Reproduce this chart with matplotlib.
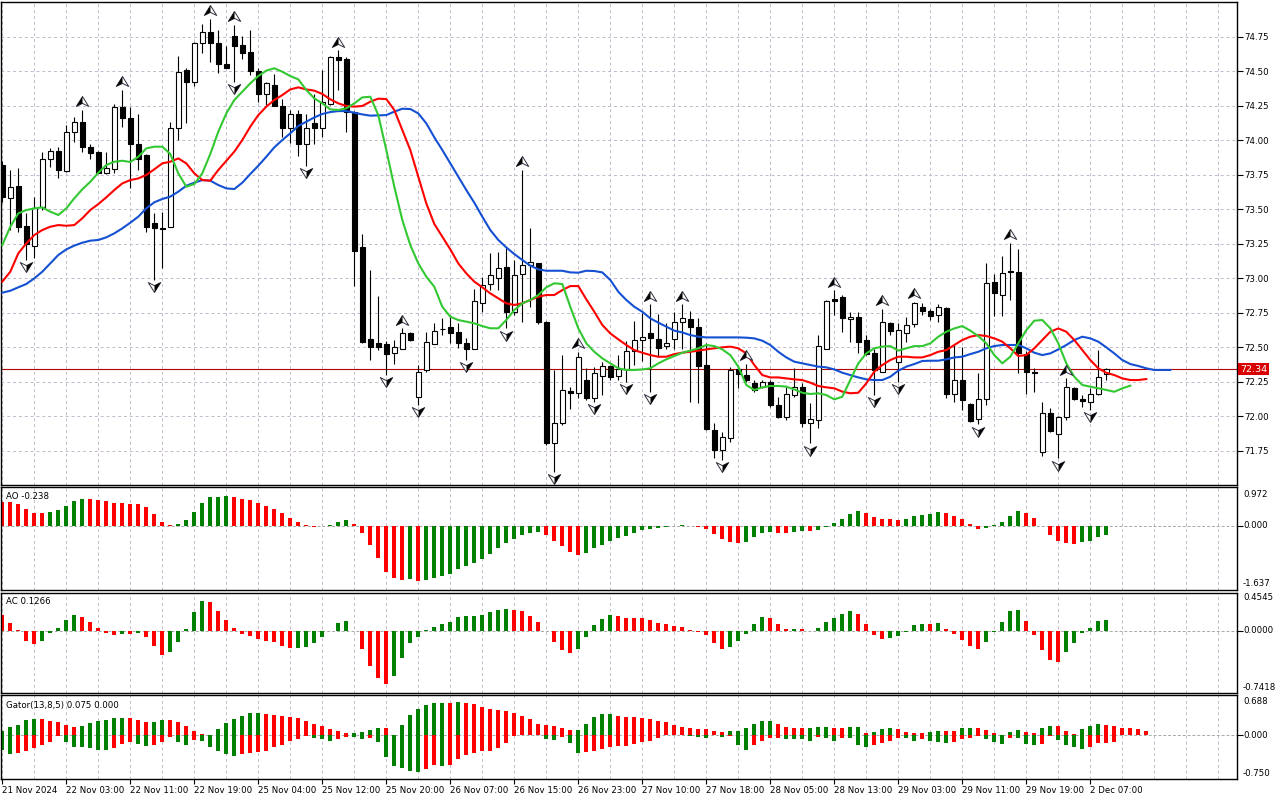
import numpy as np
import matplotlib
matplotlib.use("Agg")
import matplotlib.pyplot as plt
from matplotlib.path import Path
from matplotlib.transforms import blended_transform_factory

# ── Data (bar 0 = 21 Nov 2024) ───────────────────────────────────────────────
opens = [73.82, 73.578, 73.668, 73.378, 73.236, 73.518, 73.861, 73.921, 73.779, 74.057,
         74.129, 73.948, 73.914, 73.76, 73.791, 74.238, 74.158, 73.97, 73.893, 73.402,
         73.362, 73.373, 74.086, 74.508, 74.424, 74.702, 74.781, 74.702, 74.55, 74.755,
         74.69, 74.636, 74.50, 74.332, 74.40, 74.25, 74.086, 74.187, 73.97, 74.127,
         74.086, 74.262, 74.60, 74.588, 74.202, 73.228, 72.557, 72.528, 72.523, 72.455,
         72.49, 72.60, 72.137, 72.335, 72.52, 72.63, 72.649, 72.607, 72.528, 72.49,
         72.823, 72.955, 73.004, 73.078, 72.757, 73.028, 73.095, 73.107, 72.685, 71.808,
         71.953, 72.183, 72.166, 72.262, 72.129, 72.294, 72.366, 72.29, 72.34, 72.475,
         72.552, 72.605, 72.557, 72.508, 72.557, 72.68, 72.702, 72.649, 72.371, 71.90,
         71.755, 71.84, 72.342, 72.298, 72.238, 72.214, 72.25, 72.081, 71.996, 72.153,
         72.21, 71.953, 71.972, 72.49, 72.847, 72.867, 72.702, 72.716, 72.552, 72.455,
         72.322, 72.678, 72.395, 72.604, 72.667, 72.793, 72.764, 72.733, 72.781, 72.163,
         72.262, 72.086, 71.977, 72.122, 72.974, 72.878, 73.054, 73.047, 72.45, 72.318,
         71.738, 72.021, 71.87, 71.992, 72.202, 72.124, 72.105, 72.158, 72.303]
highs = [73.85, 73.784, 73.796, 73.47, 73.59, 73.917, 73.946, 73.953, 74.11, 74.165,
         74.219, 73.97, 73.92, 73.917, 74.262, 74.364, 74.238, 74.187, 73.90, 73.47,
         73.482, 74.134, 74.61, 74.52, 74.715, 74.84, 74.878, 74.80, 74.685, 74.835,
         74.755, 74.80, 74.52, 74.424, 74.479, 74.298, 74.219, 74.219, 74.187, 74.332,
         74.508, 74.61, 74.653, 74.605, 74.21, 73.32, 73.06, 72.871, 72.547, 72.55,
         72.636, 72.61, 72.371, 72.612, 72.673, 72.709, 72.733, 72.673, 72.564, 72.92,
         73.006, 73.18, 73.192, 73.216, 73.13, 73.784, 73.361, 73.11, 72.69, 72.335,
         72.443, 72.214, 72.467, 72.347, 72.36, 72.395, 72.37, 72.443, 72.545, 72.692,
         72.745, 72.81, 72.74, 72.677, 72.757, 72.81, 72.764, 72.709, 72.528, 71.948,
         71.888, 72.355, 72.371, 72.38, 72.262, 72.262, 72.262, 72.14, 72.214, 72.347,
         72.238, 72.093, 72.588, 72.84, 72.914, 72.88, 72.757, 72.757, 72.588, 72.49,
         72.78, 72.68, 72.673, 72.72, 72.83, 72.817, 72.78, 72.81, 72.793, 72.516,
         72.504, 72.093, 72.31, 73.107, 73.03, 73.16, 73.257, 73.21, 72.475, 72.347,
         72.10, 72.057, 72.0, 72.274, 72.214, 72.153, 72.202, 72.479, 72.347]
lows = [73.55, 73.349, 73.337, 73.132, 73.144, 73.494, 73.808, 73.728, 73.772, 73.989,
        73.917, 73.861, 73.76, 73.755, 73.76, 74.098, 73.651, 73.784, 73.337, 72.987,
        73.071, 73.37, 74.0, 74.122, 74.39, 74.63, 74.569, 74.489, 74.52, 74.424,
        74.586, 74.472, 74.279, 74.255, 74.248, 74.02, 73.977, 73.888, 73.815, 73.97,
        74.02, 74.255, 74.364, 74.057, 72.943, 72.528, 72.407, 72.48, 72.298, 72.376,
        72.49, 72.547, 72.081, 72.32, 72.52, 72.588, 72.528, 72.492, 72.407, 72.49,
        72.757, 72.914, 72.914, 72.636, 72.733, 72.685, 72.793, 72.668, 71.79, 71.598,
        71.936, 72.05, 72.129, 72.12, 72.105, 72.153, 72.262, 72.262, 72.25, 72.371,
        72.402, 72.178, 72.431, 72.49, 72.49, 72.49, 72.105, 72.093, 71.90, 71.694,
        71.682, 71.815, 72.202, 72.25, 72.178, 72.202, 72.069, 71.99, 71.972, 72.141,
        71.924, 71.803, 71.912, 72.49, 72.733, 72.607, 72.54, 72.455, 72.443, 72.153,
        72.32, 72.588, 72.25, 72.54, 72.648, 72.733, 72.697, 72.685, 72.129, 72.105,
        72.045, 71.955, 71.94, 72.081, 72.723, 72.723, 72.842, 72.31, 72.158, 72.177,
        71.711, 71.888, 71.694, 71.972, 72.117, 72.069, 72.045, 72.153, 72.262]
closes = [73.59, 73.663, 73.373, 73.248, 73.506, 73.861, 73.921, 73.784, 74.057, 74.129,
          73.948, 73.91, 73.764, 73.796, 74.238, 74.158, 73.97, 73.861, 73.373, 73.366,
          73.36, 74.086, 74.492, 74.419, 74.702, 74.781, 74.702, 74.55, 74.525, 74.685,
          74.634, 74.504, 74.332, 74.412, 74.25, 74.086, 74.187, 73.97, 74.086, 74.086,
          74.279, 74.60, 74.581, 74.202, 73.199, 72.54, 72.504, 72.504, 72.448, 72.499,
          72.605, 72.55, 72.323, 72.54, 72.62, 72.632, 72.60, 72.528, 72.49, 72.837,
          72.95, 73.02, 73.071, 72.757, 73.02, 73.095, 73.12, 72.685, 71.803, 71.948,
          72.19, 72.166, 72.426, 72.129, 72.31, 72.366, 72.286, 72.34, 72.472, 72.552,
          72.576, 72.569, 72.497, 72.528, 72.685, 72.709, 72.649, 72.366, 71.907, 71.755,
          71.847, 72.335, 72.306, 72.262, 72.19, 72.25, 72.081, 71.992, 72.158, 72.214,
          71.953, 71.977, 72.508, 72.835, 72.835, 72.709, 72.716, 72.54, 72.448, 72.335,
          72.685, 72.62, 72.624, 72.66, 72.817, 72.764, 72.728, 72.788, 72.158, 72.265,
          72.117, 71.965, 72.122, 72.967, 72.895, 73.04, 73.047, 72.455, 72.322, 72.31,
          72.021, 71.893, 71.995, 72.209, 72.124, 72.11, 72.158, 72.281, 72.34]

# Alligator lines as drawn (already shifted forward: jaw +8, teeth +5, lips +3)
jaw = [72.895, 72.909, 72.934, 72.958, 72.999, 73.047, 73.107, 73.168, 73.209, 73.236,
       73.257, 73.272, 73.277, 73.296, 73.325, 73.361, 73.402, 73.446, 73.506, 73.55,
       73.574, 73.591, 73.627, 73.670, 73.692, 73.711, 73.707, 73.675, 73.651, 73.646,
       73.692, 73.755, 73.815, 73.880, 73.948, 74.001, 74.05, 74.103, 74.134, 74.165,
       74.19, 74.204, 74.211, 74.211, 74.199, 74.187, 74.178, 74.18, 74.182, 74.207,
       74.228, 74.226, 74.194, 74.122, 74.021, 73.929, 73.832, 73.736, 73.639, 73.547,
       73.446, 73.349, 73.277, 73.223, 73.175, 73.132, 73.091, 73.064, 73.054, 73.054,
       73.054, 73.042, 73.04, 73.054, 73.052, 73.042, 72.987, 72.902, 72.842, 72.793,
       72.757, 72.709, 72.678, 72.649, 72.62, 72.607, 72.588, 72.576, 72.571, 72.571,
       72.571, 72.571, 72.571, 72.569, 72.564, 72.547, 72.516, 72.467, 72.426, 72.395,
       72.383, 72.371, 72.359, 72.354, 72.339, 72.315, 72.298, 72.281, 72.267, 72.262,
       72.262, 72.286, 72.33, 72.359, 72.378, 72.40, 72.402, 72.402, 72.412, 72.426,
       72.431, 72.45, 72.467, 72.492, 72.508, 72.516, 72.516, 72.516, 72.492, 72.46,
       72.443, 72.455, 72.484, 72.516, 72.552, 72.576, 72.564, 72.54, 72.499, 72.455,
       72.407, 72.378, 72.364, 72.347, 72.335, 72.335, 72.335]
teeth = [72.975, 73.047, 73.18, 73.252, 73.313, 73.349, 73.373, 73.385, 73.38, 73.385,
         73.434, 73.494, 73.537, 73.586, 73.639, 73.687, 73.711, 73.723, 73.748, 73.789,
         73.832, 73.844, 73.868, 73.832, 73.760, 73.711, 73.707, 73.784, 73.851, 73.917,
         74.001, 74.098, 74.182, 74.243, 74.291, 74.327, 74.368, 74.383, 74.368, 74.359,
         74.335, 74.296, 74.267, 74.248, 74.243, 74.248, 74.279, 74.301, 74.298, 74.219,
         74.074, 73.929, 73.736, 73.542, 73.393, 73.301, 73.209, 73.107, 73.035, 72.975,
         72.934, 72.89, 72.854, 72.818, 72.806, 72.818, 72.842, 72.866, 72.878, 72.878,
         72.914, 72.943, 72.943, 72.847, 72.757, 72.661, 72.60, 72.557, 72.516, 72.479,
         72.46, 72.443, 72.431, 72.431, 72.45, 72.46, 72.467, 72.475, 72.484, 72.492,
         72.499, 72.504, 72.492, 72.455, 72.371, 72.298, 72.281, 72.281, 72.274, 72.267,
         72.262, 72.243, 72.219, 72.209, 72.202, 72.178, 72.166, 72.17, 72.238, 72.323,
         72.371, 72.407, 72.431, 72.431, 72.426, 72.426, 72.443, 72.467, 72.479, 72.516,
         72.552, 72.576, 72.588, 72.581, 72.564, 72.54, 72.492, 72.436, 72.443, 72.492,
         72.552, 72.612, 72.636, 72.612, 72.552, 72.479, 72.407, 72.347, 72.315, 72.298,
         72.274, 72.262, 72.262, 72.269]
lips = [73.240, 73.373, 73.470, 73.494, 73.506, 73.513, 73.482, 73.458, 73.506, 73.579,
        73.644, 73.699, 73.764, 73.820, 73.844, 73.851, 73.842, 73.880, 73.941, 73.953,
        73.953, 73.900, 73.760, 73.663, 73.682, 73.760, 73.900, 74.062, 74.194, 74.291,
        74.351, 74.412, 74.465, 74.504, 74.521, 74.496, 74.465, 74.441, 74.364, 74.303,
        74.267, 74.223, 74.219, 74.231, 74.267, 74.31, 74.315, 74.182, 73.929, 73.663,
        73.422, 73.24, 73.107, 73.011, 72.938, 72.793, 72.721, 72.697, 72.685, 72.673,
        72.653, 72.637, 72.637, 72.697, 72.769, 72.818, 72.842, 72.878, 72.934, 72.963,
        72.958, 72.793, 72.637, 72.528, 72.467, 72.419, 72.383, 72.347, 72.335, 72.335,
        72.339, 72.347, 72.383, 72.412, 72.436, 72.46, 72.475, 72.492, 72.516, 72.508,
        72.484, 72.443, 72.359, 72.226, 72.19, 72.209, 72.219, 72.219, 72.214, 72.194,
        72.17, 72.161, 72.166, 72.153, 72.122, 72.141, 72.262, 72.383, 72.455, 72.492,
        72.504, 72.508, 72.475, 72.492, 72.508, 72.508, 72.528, 72.576, 72.612, 72.636,
        72.653, 72.62, 72.581, 72.528, 72.443, 72.383, 72.431, 72.528, 72.624, 72.692,
        72.697, 72.637, 72.528, 72.383, 72.286, 72.226, 72.214, 72.202, 72.19, 72.177,
        72.202, 72.221]

fractal_up = [10, 15, 26, 29, 42, 50, 65, 72, 81, 85, 93, 104, 110, 114, 126, 133]
fractal_down = [3, 19, 29, 38, 48, 52, 58, 63, 69, 74, 78, 81, 90, 101, 109, 112, 122, 132, 136]

ao = [0.59, 0.59, 0.549, 0.422, 0.32, 0.318, 0.345, 0.396, 0.498, 0.625,
      0.676, 0.672, 0.659, 0.633, 0.574, 0.572, 0.549, 0.547, 0.472, 0.295,
      0.091, 0.015, 0.04, 0.142, 0.345, 0.574, 0.726, 0.728, 0.752, 0.726,
      0.676, 0.659, 0.574, 0.498, 0.422, 0.32, 0.193, 0.091, 0.015, -0.027,
      -0.02, 0.015, 0.091, 0.142, 0.04, -0.189, -0.494, -0.823, -1.179, -1.331,
      -1.382, -1.356, -1.407, -1.382, -1.331, -1.28, -1.229, -1.102, -1.026, -0.95,
      -0.848, -0.721, -0.569, -0.442, -0.34, -0.239, -0.189, -0.163, -0.239, -0.391,
      -0.527, -0.663, -0.74, -0.688, -0.56, -0.493, -0.383, -0.307, -0.256, -0.18,
      -0.12, -0.078, -0.053, -0.027, -0.01, 0.003, -0.005, -0.027, -0.078, -0.205,
      -0.349, -0.408, -0.434, -0.408, -0.298, -0.18, -0.154, -0.18, -0.182, -0.16,
      -0.145, -0.15, -0.12, -0.027, 0.066, 0.176, 0.295, 0.371, 0.32, 0.218,
      0.176, 0.174, 0.151, 0.176, 0.244, 0.269, 0.295, 0.345, 0.32, 0.244,
      0.176, 0.04, -0.075, -0.065, 0.02, 0.091, 0.244, 0.371, 0.32, 0.193,
      -0.01, -0.231, -0.383, -0.434, -0.468, -0.417, -0.383, -0.281, -0.238]
ac = [0.183, 0.088, 0.004, -0.128, -0.16, -0.128, -0.028, 0.028, 0.124, 0.183,
      0.159, 0.1, 0.028, -0.028, -0.052, -0.04, -0.045, -0.028, -0.076, -0.183,
      -0.291, -0.255, -0.136, 0.016, 0.219, 0.351, 0.349, 0.231, 0.124, 0.028,
      -0.04, -0.064, -0.1, -0.124, -0.136, -0.183, -0.207, -0.205, -0.195, -0.148,
      -0.076, 0.002, 0.088, 0.112, -0.002, -0.219, -0.423, -0.566, -0.638, -0.542,
      -0.327, -0.148, -0.076, 0.004, 0.04, 0.076, 0.1, 0.159, 0.171, 0.172,
      0.183, 0.219, 0.243, 0.255, 0.243, 0.231, 0.171, 0.1, -0.003, -0.136,
      -0.231, -0.267, -0.219, -0.076, 0.064, 0.136, 0.183, 0.171, 0.148, 0.147,
      0.146, 0.124, 0.088, 0.076, 0.052, 0.04, 0.004, -0.016, -0.052, -0.148,
      -0.219, -0.195, -0.124, -0.04, 0.076, 0.159, 0.148, 0.076, 0.016, 0.017,
      0.015, -0.004, 0.028, 0.1, 0.148, 0.195, 0.231, 0.195, 0.076, -0.052,
      -0.1, -0.084, -0.064, -0.016, 0.064, 0.076, 0.075, 0.088, 0.016, -0.04,
      -0.112, -0.183, -0.219, -0.136, -0.016, 0.1, 0.231, 0.243, 0.112, -0.052,
      -0.231, -0.351, -0.375, -0.255, -0.148, -0.024, 0.028, 0.112, 0.1266]
gator_up = [0.074, 0.143, 0.188, 0.263, 0.28, 0.279, 0.245, 0.228, 0.177, 0.143,
            0.16, 0.211, 0.245, 0.263, 0.297, 0.298, 0.296, 0.262, 0.228, 0.23,
            0.263, 0.261, 0.228, 0.16, 0.074, 0.017, 0.003, 0.108, 0.211, 0.28,
            0.331, 0.382, 0.383, 0.365, 0.348, 0.331, 0.314, 0.297, 0.245, 0.194,
            0.16, 0.108, 0.074, 0.04, 0.041, 0.057, 0.091, 0.126, 0.125, 0.01,
            0.177, 0.348, 0.451, 0.519, 0.554, 0.555, 0.553, 0.571, 0.554, 0.537,
            0.485, 0.451, 0.434, 0.417, 0.382, 0.331, 0.28, 0.194, 0.177, 0.16,
            0.126, 0.091, 0.092, 0.194, 0.314, 0.365, 0.366, 0.331, 0.314, 0.313,
            0.297, 0.28, 0.245, 0.228, 0.177, 0.143, 0.126, 0.108, 0.107, 0.074,
            0.057, 0.075, 0.076, 0.126, 0.194, 0.245, 0.246, 0.194, 0.143, 0.126,
            0.125, 0.126, 0.143, 0.144, 0.126, 0.125, 0.143, 0.15, 0.04, 0.057,
            0.108, 0.126, 0.108, 0.057, 0.04, 0.039, 0.057, 0.074, 0.073, 0.07,
            0.126, 0.131, 0.126, 0.091, 0.04, 0.011, 0.057, 0.091, 0.057, 0.04,
            0.126, 0.16, 0.159, 0.074, 0.03, 0.108, 0.16, 0.194, 0.177, 0.16,
            0.126, 0.125, 0.108, 0.075]
gator_down = [-0.24, -0.314, -0.297, -0.268, -0.211, -0.171, -0.114, -0.011, -0.114, -0.2,
              -0.203, -0.211, -0.24, -0.242, -0.211, -0.143, -0.114, -0.143, -0.183, -0.16,
              -0.114, -0.029, -0.114, -0.16, -0.074, -0.097, -0.2, -0.257, -0.325, -0.354,
              -0.32, -0.297, -0.285, -0.257, -0.2, -0.16, -0.097, -0.057, -0.006, -0.04,
              -0.057, -0.097, -0.057, -0.029, -0.03, -0.057, -0.04, -0.114, -0.371, -0.525,
              -0.559, -0.6, -0.628, -0.571, -0.502, -0.525, -0.502, -0.4, -0.331, -0.297,
              -0.274, -0.257, -0.217, -0.126, -0.006, 0.0, 0.0, 0.0, -0.057, -0.074,
              -0.029, -0.126, -0.297, -0.285, -0.257, -0.228, -0.2, -0.183, -0.182, -0.143,
              -0.114, -0.091, -0.04, 0.0, 0.0, 0.0, -0.006, -0.023, -0.04, 0.0,
              -0.023, -0.006, -0.171, -0.24, -0.16, -0.086, -0.04, -0.04, -0.057, -0.058,
              -0.068, -0.091, -0.023, -0.04, -0.091, -0.04, -0.041, -0.171, -0.2, -0.171,
              -0.126, -0.086, -0.04, -0.041, -0.091, -0.057, -0.091, -0.108, -0.126, -0.108,
              -0.057, -0.04, -0.006, -0.057, -0.114, -0.143, -0.04, -0.041, -0.143, -0.171,
              -0.143, -0.006, -0.074, -0.16, -0.2, -0.228, -0.2, -0.126, -0.125, -0.114]

time_idx = [0, 8, 16, 24, 32, 40, 48, 56, 64, 72, 80, 88, 96, 104, 112, 120, 128, 136]
time_labels = ["21 Nov 2024", "22 Nov 03:00", "22 Nov 11:00", "22 Nov 19:00", "25 Nov 04:00",
               "25 Nov 12:00", "25 Nov 20:00", "26 Nov 07:00", "26 Nov 15:00", "26 Nov 23:00",
               "27 Nov 10:00", "27 Nov 18:00", "28 Nov 05:00", "28 Nov 13:00", "29 Nov 03:00",
               "29 Nov 11:00", "29 Nov 19:00", "2 Dec 07:00"]
price_ticks = [74.75, 74.50, 74.25, 74.00, 73.75, 73.50, 73.25, 73.00, 72.75, 72.50, 72.25, 72.00, 71.75]
price_range = (71.50, 75.00)
last_price = 72.34
ao_scale = [0.972, 0.000, -1.637]
ac_scale = [0.4545, 0.0000, -0.7418]
gator_scale = [0.688, 0.000, -0.750]

# ── Style ────────────────────────────────────────────────────────────────────
plt.rcParams['font.family'] = ['DejaVu Sans']
FS = 6.2
GREEN, RED = "#008000", "#ff0000"
GRID_C = "#c4b8cc"
W, H = 1280, 800
BAR_PX, BAR0_PX = 8.0, 2.3
X_L, X_R = 1.0, 1237.0
XLIM = ((X_L - BAR0_PX) / BAR_PX, (X_R - BAR0_PX) / BAR_PX)
GRID_IDX = np.arange(0, 156, 4)

fig = plt.figure(figsize=(W / 100, H / 100), dpi=100)
fig.patch.set_facecolor("white")


def px_axes(y0, y1):
    return fig.add_axes([X_L / W, 1 - y1 / H, (X_R - X_L) / W, (y1 - y0) / H])


def frame(ax):
    ax.set_xlim(*XLIM)
    for s in ax.spines.values():
        s.set_color("black")
        s.set_linewidth(1.0)
    ax.set_xticks(GRID_IDX)
    ax.grid(True, axis="x", color=GRID_C, linestyle=(0, (3, 3)), linewidth=0.7)
    ax.set_axisbelow(True)
    ax.tick_params(axis="x", length=0, labelbottom=False)


def fig_text(x, y, s, **kw):
    fig.text(x / W, 1 - y / H, s, fontsize=FS, va="center", ha="left", **kw)


# ── Main price panel ─────────────────────────────────────────────────────────
ax = px_axes(2.2, 485.2)
frame(ax)
ax.set_ylim(*price_range)
ax.set_yticks(price_ticks)
ax.set_yticklabels([f"{p:.2f}" for p in price_ticks])
ax.yaxis.tick_right()
ax.tick_params(axis="y", length=4, width=0.8, pad=1.5, labelsize=FS)
ax.grid(True, axis="y", color=GRID_C, linestyle=(0, (3, 3)), linewidth=0.7)

o, h, l, c = map(np.array, (opens, highs, lows, closes))
idx = np.arange(len(o))
bull = c >= o
ax.axhline(last_price, color="#b00000", linewidth=0.8, zorder=1.5)
ax.vlines(idx, l, h, color="black", linewidth=0.8, zorder=3)
ax.bar(idx, np.maximum(np.abs(c - o), 0.005), bottom=np.minimum(o, c), width=0.56,
       color=np.where(bull, "white", "black"), edgecolor="black", linewidth=0.8, zorder=4)

ax.plot(np.arange(len(jaw)), jaw, color="#1450d2", linewidth=1.5, zorder=5)
ax.plot(np.arange(len(teeth)), teeth, color="#ff0000", linewidth=1.5, zorder=5)
ax.plot(np.arange(len(lips)), lips, color="#32c832", linewidth=1.5, zorder=5)

# Bill Williams fractal arrowheads: outlined shape with one half filled black
CL = [Path.MOVETO, Path.LINETO, Path.LINETO, Path.LINETO, Path.CLOSEPOLY]
up_full = Path([(0, 0.8), (1, -0.8), (0, -0.3), (-1, -0.8), (0, 0.8)], CL)
up_half = Path([(0, 0.8), (0, -0.3), (-1, -0.8), (-1, -0.8), (0, 0.8)], CL)
dn_full = Path([(0, -0.8), (1, 0.8), (0, 0.3), (-1, 0.8), (0, -0.8)], CL)
dn_half = Path([(0, -0.8), (1, 0.8), (0, 0.3), (0, 0.3), (0, -0.8)], CL)
fu, fd = np.array(fractal_up), np.array(fractal_down)
MS = 80
ax.scatter(fu, h[fu] + 0.062, marker=up_full, s=MS, c="white", edgecolors="#303040",
           linewidths=0.7, zorder=6)
ax.scatter(fu, h[fu] + 0.062, marker=up_half, s=MS, c="black", linewidths=0, zorder=7)
ax.scatter(fd, l[fd] - 0.052, marker=dn_full, s=MS, c="white", edgecolors="#303040",
           linewidths=0.7, zorder=6)
ax.scatter(fd, l[fd] - 0.052, marker=dn_half, s=MS, c="black", linewidths=0, zorder=7)

tr = blended_transform_factory(ax.transAxes, ax.transData)
ax.text(1.0025, last_price, f"{last_price:.2f}", transform=tr, fontsize=FS + 0.6, color="white",
        va="center", ha="left", clip_on=False, zorder=10,
        bbox=dict(facecolor="#d80000", edgecolor="none", pad=1.2))


# ── Oscillator panels ────────────────────────────────────────────────────────
def osc_colors(vals, first, use_abs=False):
    v = np.abs(vals) if use_abs else np.asarray(vals)
    cols = [first]
    for a, b in zip(v[:-1], v[1:]):
        cols.append(GREEN if b > a else RED)
    return cols


def osc_panel(y0, y1, scale, scale_pos, title, title_y):
    a = px_axes(y0, y1)
    frame(a)
    a.set_ylim(scale[2], scale[0])
    a.axhline(0, color="#a8a8a8", linestyle=(0, (3, 2)), linewidth=0.7, zorder=1)
    a.yaxis.tick_right()
    a.set_yticks([0])
    a.set_yticklabels([""])
    a.tick_params(axis="y", length=4, width=0.8)
    fmt = "{:.4f}" if len(str(scale[0]).split(".")[1]) > 3 else "{:.3f}"
    for val, yp in zip(scale, scale_pos):
        fig_text(1243, yp, fmt.format(val))
    fig_text(6, title_y, title)
    return a


ax_ao = osc_panel(487.3, 590.0, ao_scale, [494, 525.3, 584], f"AO {ao[-1]:.3f}", 496.5)
ax_ao.bar(np.arange(len(ao)), ao, width=0.5, color=osc_colors(ao, RED), linewidth=0)

ax_ac = osc_panel(592.7, 692.7, ac_scale, [597.5, 630.5, 687], f"AC {ac[-1]:.4f}", 601.5)
ax_ac.bar(np.arange(len(ac)), ac, width=0.5, color=osc_colors(ac, RED), linewidth=0)

ax_g = osc_panel(695.3, 779.3, gator_scale, [702, 735.5, 773],
                 f"Gator(13,8,5) {gator_up[-1]:.3f} 0.000", 705.3)
ax_g.bar(np.arange(len(gator_up)), gator_up, width=0.5,
         color=osc_colors(gator_up, GREEN), linewidth=0)
ax_g.bar(np.arange(len(gator_down)), gator_down, width=0.5,
         color=osc_colors(gator_down, GREEN, use_abs=True), linewidth=0)

# time axis under the last panel
ax_g.set_xticks(GRID_IDX, minor=True)
ax_g.set_xticks(time_idx)
ax_g.set_xticklabels(time_labels)
ax_g.grid(True, axis="x", which="both", color=GRID_C, linestyle=(0, (3, 3)), linewidth=0.7)
ax_g.tick_params(axis="x", which="major", length=3.5, width=0.8, pad=1.0,
                 labelbottom=True, labelsize=FS)
ax_g.tick_params(axis="x", which="minor", length=0)
for lbl in ax_g.get_xticklabels():
    lbl.set_horizontalalignment("left")

fig.savefig("out.png", dpi=100, facecolor="white")
